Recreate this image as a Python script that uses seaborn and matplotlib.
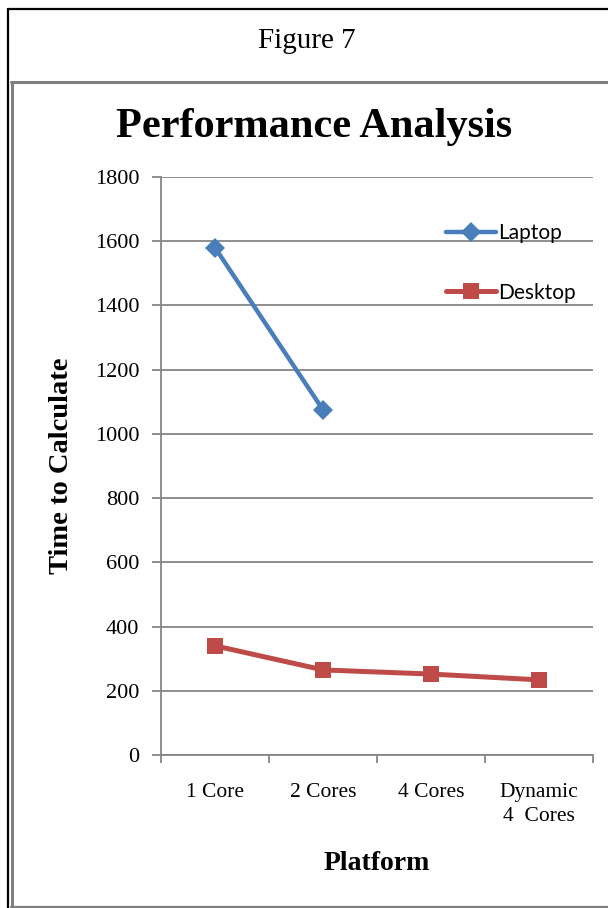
import numpy as np
import pandas as pd
import matplotlib
matplotlib.use("Agg")
import matplotlib.pyplot as plt
from matplotlib.lines import Line2D
from matplotlib.ticker import FixedLocator
import seaborn as sns

# ---- data ----
platforms = ["1 Core", "2 Cores", "4 Cores", "Dynamic\n4  Cores"]
laptop_times = [1580, 1075]           # laptop measured on 1 and 2 cores only
desktop_times = [340, 265, 252, 234]
series_names = ["Laptop", "Desktop"]
y_ticks = [0, 200, 400, 600, 800, 1000, 1200, 1400, 1600, 1800]

df = pd.DataFrame({
    "Platform": platforms[:len(laptop_times)] + platforms,
    "Time": laptop_times + desktop_times,
    "Machine": [series_names[0]] * len(laptop_times) + [series_names[1]] * len(desktop_times),
})

BLUE = "#4A7EBB"
RED = "#BE4B48"
GRID = "#868686"
SERIF = "Liberation Serif"

sns.set_theme(style="white")
plt.rcParams["font.family"] = [SERIF, "DejaVu Serif"]
plt.rcParams["text.color"] = "black"
plt.rcParams["axes.labelcolor"] = "black"

W, H = 608, 908
fig = plt.figure(figsize=(W / 100, H / 100), dpi=100)


def fx(px):
    return px / W


def fy(py):
    return 1 - py / H


ax = fig.add_axes([fx(161), fy(755), fx(593) - fx(161), fy(177) - fy(755)])

sns.lineplot(
    data=df, x="Platform", y="Time", hue="Machine", style="Machine",
    palette={"Laptop": BLUE, "Desktop": RED},
    markers={"Laptop": "D", "Desktop": "s"}, dashes=False, sort=False,
    linewidth=3.2, markeredgewidth=0, ax=ax, legend=False,
)
for line in ax.get_lines():
    if line.get_color() == BLUE:
        line.set_markersize(10)
    else:
        line.set_markersize(11.5)
        line.set_linewidth(3.6)

ax.set_xlim(-0.5, 3.5)
ax.set_ylim(0, 1800)
ax.set_yticks(y_ticks)
ax.set_yticklabels([str(v) for v in y_ticks], fontsize=16, family=SERIF)
ax.set_xticks(range(len(platforms)))
ax.set_xticklabels(platforms, fontsize=15.5, family=SERIF, linespacing=1.4)
ax.xaxis.set_minor_locator(FixedLocator(np.arange(-0.5, 3.6, 1.0)))

ax.grid(axis="y", color=GRID, linewidth=1.3)
ax.grid(axis="x", visible=False)
ax.set_axisbelow(True)
for side in ["top", "right"]:
    ax.spines[side].set_visible(False)
for side in ["left", "bottom"]:
    ax.spines[side].set_color(GRID)
    ax.spines[side].set_linewidth(1.3)

ax.tick_params(axis="y", which="major", left=True, length=6.5, width=1.3, color=GRID,
               pad=9, labelcolor="black")
ax.tick_params(axis="x", which="major", bottom=False, pad=14, labelcolor="black")
ax.tick_params(axis="x", which="minor", bottom=True, length=5.5, width=1.3, color=GRID)

ax.set_xlabel("Platform", fontsize=20, fontweight="bold", family=SERIF)
ax.set_ylabel("Time to Calculate", fontsize=20.5, fontweight="bold", family=SERIF)
ax.xaxis.set_label_coords(0.5, (755 - 851) / (755 - 177), transform=ax.transAxes)
ax.yaxis.set_label_coords((74 - 161) / (593 - 161), 0.5, transform=ax.transAxes)

# legend
handles = [
    Line2D([], [], color=BLUE, marker="D", markersize=10, linewidth=3.2, markeredgewidth=0),
    Line2D([], [], color=RED, marker="s", markersize=11.5, linewidth=3.6, markeredgewidth=0),
]
leg = ax.legend(
    handles, series_names, loc="upper left",
    bbox_to_anchor=(fx(446), fy(223)), bbox_transform=fig.transFigure,
    frameon=False, borderpad=0, borderaxespad=0, handlelength=2.4,
    handletextpad=0.1, labelspacing=1.9,
    prop={"family": "Lato", "size": 15},
)

# chart title and figure caption
fig.text(fx(314), fy(127), "Performance Analysis", ha="center", va="center",
         fontsize=30.5, fontweight="bold", family=SERIF)
fig.text(fx(307), fy(41), "Figure 7", ha="center", va="center",
         fontsize=21, family=SERIF)

# page frames
fig.add_artist(Line2D([fx(8), fx(8)], [fy(9), fy(908)], color="black", linewidth=1.6,
                      transform=fig.transFigure))
fig.add_artist(Line2D([fx(8), fx(608)], [fy(9), fy(9)], color="black", linewidth=1.6,
                      transform=fig.transFigure))
fig.add_artist(Line2D([fx(12), fx(12)], [fy(82), fy(907)], color="#808080", linewidth=2.2,
                      transform=fig.transFigure))
fig.add_artist(Line2D([fx(11), fx(608)], [fy(82), fy(82)], color="#808080", linewidth=2.2,
                      transform=fig.transFigure))
fig.add_artist(Line2D([fx(11), fx(608)], [fy(906.5), fy(906.5)], color="#808080", linewidth=1.6,
                      transform=fig.transFigure))

fig.savefig("out.png", dpi=100)
